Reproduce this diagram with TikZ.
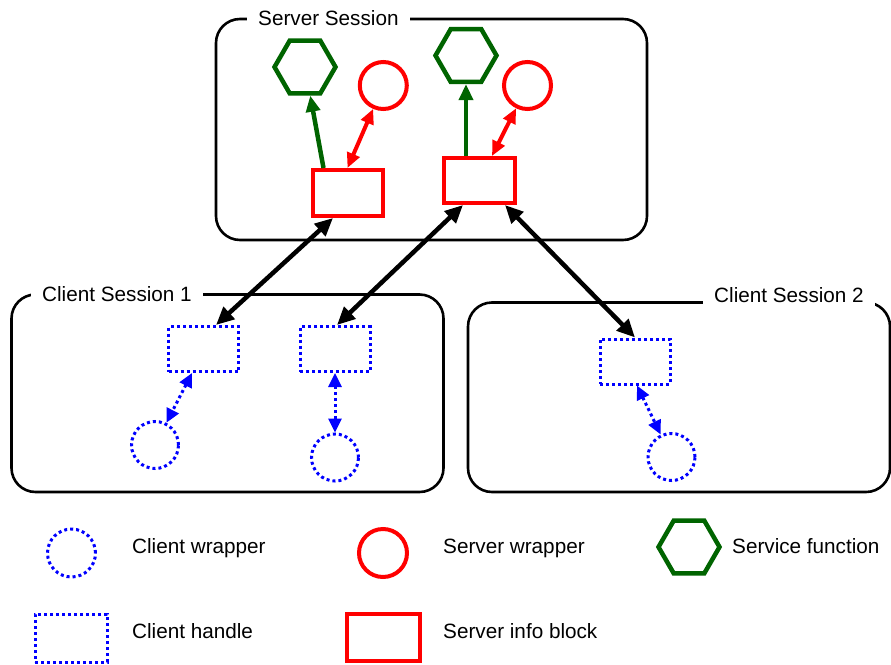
\documentclass[tikz,border=0pt]{standalone}
\usepackage{fontspec}
\setmainfont{Liberation Sans}
\usetikzlibrary{arrows.meta,shapes.geometric}
\definecolor{darkgreen}{RGB}{0,100,0}

\begin{document}
\begin{tikzpicture}[x=1pt,y=-1pt,
  font=\fontsize{20.7}{24}\selectfont,
  session/.style={draw=black, line width=2.6pt, rounded corners=24pt, inner sep=0pt},
  caption/.style={fill=white, inner xsep=11pt, inner ysep=4pt, anchor=base west},
  srvblock/.style={draw=red, line width=4pt, inner sep=0pt, minimum width=70pt, minimum height=46pt},
  srvwrap/.style={draw=red, line width=4pt, circle, inner sep=0pt, minimum size=47pt},
  svcfun/.style={draw=darkgreen, line width=4.5pt, regular polygon, regular polygon sides=6, inner sep=0pt, minimum size=61pt},
  clhandle/.style={draw=blue, line width=3pt, dash pattern=on 3pt off 3pt, inner sep=0pt, minimum width=70pt, minimum height=45pt},
  clwrap/.style={draw=blue, line width=3pt, dash pattern=on 3pt off 3pt, circle, inner sep=0pt, minimum size=47pt},
  legendtext/.style={anchor=base west, inner sep=0pt},
  bk/.style={draw=black, line width=4.5pt, {Triangle[length=18pt,width=16pt]}-{Triangle[length=18pt,width=16pt]}},
  rd/.style={draw=red, line width=4pt, {Triangle[length=15pt,width=13pt]}-{Triangle[length=15pt,width=13pt]}},
  gr/.style={draw=darkgreen, line width=4.5pt, -{Triangle[length=16pt,width=14pt]}},
  bl/.style={draw=blue, line width=3pt, dash pattern=on 3pt off 3pt, {Triangle[length=14pt,width=13pt]}-{Triangle[length=14pt,width=13pt]}}
]
\useasboundingbox (0,0) rectangle (891,664);

% session frames
\node[session, minimum width=431pt, minimum height=221pt] (ss) at (431.5,129.5) {};
\node[session, minimum width=432pt, minimum height=197.5pt] (cs1) at (227.5,393.25) {};
\node[session, minimum width=422pt, minimum height=189.5pt] (cs2) at (679,397.25) {};
\node[caption] (ssT) at (247,25) {Server Session};
\node[caption] (cs1T) at (31,301) {Client Session 1};
\node[caption] (cs2T) at (703,302) {Client Session 2};

% server side
\node[svcfun] (sf1) at (305,67) {};
\node[srvwrap] (sw1) at (383.3,85.5) {};
\node[srvblock] (sb1) at (347.5,193) {};
\node[svcfun] (sf2) at (466,55.5) {};
\node[srvwrap] (sw2) at (527.5,85.5) {};
\node[srvblock, minimum width=71pt, minimum height=45pt] (sb2) at (479.5,180.5) {};

% client side
\node[clhandle] (ch1) at (203.5,349) {};
\node[clhandle] (ch2) at (335,349) {};
\node[clhandle] (ch3) at (635,361.5) {};
\node[clwrap] (cw1) at (155,445) {};
\node[clwrap] (cw2) at (335,457.5) {};
\node[clwrap] (cw3) at (671.5,457) {};

% links inside the server session
\draw[gr] ([xshift=-24pt]sb1.north) -- (sf1);
\draw[rd] (sb1.north) -- (sw1);
\draw[gr] ([xshift=-13.5pt]sb2.north) -- (sf2);
\draw[rd] ([xshift=12.5pt]sb2.north) -- (sw2);

% links between sessions
\draw[bk] ([xshift=-14.5pt]sb1.south) -- ([xshift=12.5pt]ch1.north);
\draw[bk] ([xshift=-16.5pt]sb2.south) -- ([xshift=2pt]ch2.north);
\draw[bk] ([xshift=25.5pt]sb2.south) -- (ch3.north);

% links inside the client sessions
\draw[bl] ([xshift=-11.5pt]ch1.south) -- (cw1);
\draw[bl] (ch2.south) -- (cw2);
\draw[bl] ([xshift=2pt]ch3.south) -- (cw3);

% legend
\node[clwrap, minimum size=48pt] (lgcw) at (71.5,553) {};
\node[legendtext] (lgcwT) at (132,553) {Client wrapper};
\node[srvwrap, minimum size=48pt] (lgsw) at (383,553) {};
\node[legendtext] (lgswT) at (443,553) {Server wrapper};
\node[svcfun] (lgsf) at (689,547) {};
\node[legendtext] (lgsfT) at (732,553) {Service function};
\node[clhandle, minimum width=72pt, minimum height=48pt] (lgch) at (71,638) {};
\node[legendtext] (lgchT) at (132,638) {Client handle};
\node[srvblock, minimum width=73pt, minimum height=47pt] (lgsb) at (383.5,637.5) {};
\node[legendtext] (lgsbT) at (443,638) {Server info block};
\end{tikzpicture}
\end{document}
